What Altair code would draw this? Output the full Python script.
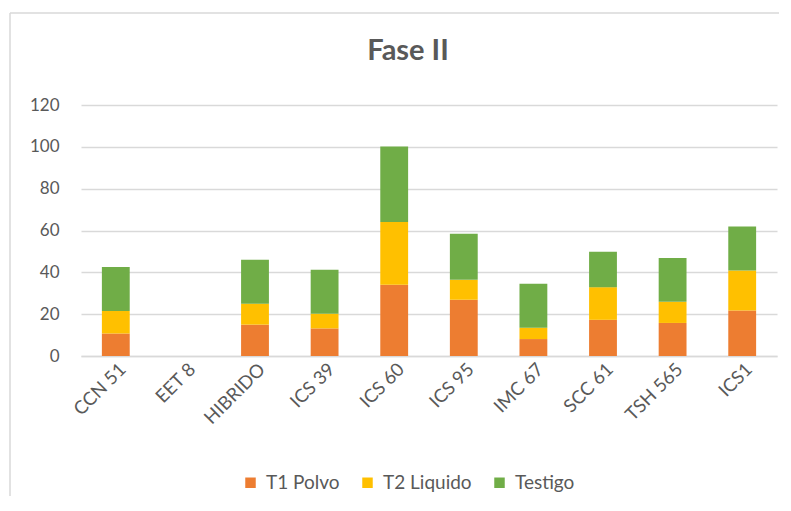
import altair as alt
import pandas as pd

categories = ["CCN 51", "EET 8", "HIBRIDO", "ICS 39", "ICS 60", "ICS 95", "IMC 67", "SCC 61", "TSH 565", "ICS1"]
t1_polvo = [10.7, 0, 15.0, 13.2, 34.1, 26.9, 8.1, 17.3, 15.8, 21.8]
t2_liquido = [10.8, 0, 10.0, 7.0, 30.0, 9.5, 5.4, 15.6, 10.1, 19.1]
testigo = [21.0, 0, 21.0, 21.0, 36.0, 22.0, 21.0, 16.9, 21.0, 21.0]
series = ["T1 Polvo", "T2 Liquido", "Testigo"]
colors = ["#ED7D31", "#FFC000", "#70AD47"]

rows = []
for i, c in enumerate(categories):
    for k, (s, vals) in enumerate(zip(series, [t1_polvo, t2_liquido, testigo])):
        rows.append({"cat": c, "serie": s, "valor": vals[i], "orden": k})
df = pd.DataFrame(rows)

FONT = "Lato"
TXT = "#595959"

bars = alt.Chart(df).mark_bar().encode(
    x=alt.X("cat:N", sort=categories, title=None,
            scale=alt.Scale(paddingInner=0.6, paddingOuter=0.3),
            axis=alt.Axis(labelAngle=-45, labelAlign="right", labelBaseline="middle",
                          labelOffset=7, labelPadding=10, ticks=False, domain=True,
                          domainColor="#d9d9d9", domainWidth=1.5,
                          labelFontSize=18.5, labelColor=TXT, labelFont=FONT)),
    y=alt.Y("valor:Q", stack="zero", title=None,
            scale=alt.Scale(domain=[0, 120]),
            axis=alt.Axis(values=[0, 20, 40, 60, 80, 100, 120], ticks=False, domain=False,
                          gridColor="#d9d9d9", gridWidth=1.5, labelPadding=22,
                          labelFontSize=17, labelColor=TXT, labelFont=FONT)),
    color=alt.Color("serie:N", sort=series,
                    scale=alt.Scale(domain=series, range=colors),
                    legend=alt.Legend(title=None, orient="none", direction="horizontal",
                                      legendX=160, legendY=368, symbolType="square",
                                      symbolSize=110, symbolStrokeWidth=0,
                                      labelFontSize=19, labelColor=TXT, labelFont=FONT,
                                      columnPadding=18, labelOffset=6)),
    order=alt.Order("orden:Q"),
)

border = alt.Chart(alt.Data(values=[{}]))
top_line = border.mark_rule(color="#d9d9d9", strokeWidth=1.5).encode(
    x=alt.value(-71), x2=alt.value(720), y=alt.value(-92))
left_line = border.mark_rule(color="#d9d9d9", strokeWidth=1.5).encode(
    x=alt.value(-71), y=alt.value(-92), y2=alt.value(420))

chart = alt.layer(bars, top_line, left_line).properties(
    width=696, height=251,
    autosize=alt.AutoSizeParams(type="none"),
    padding={"left": 73, "top": 97, "right": 2, "bottom": 140},
    title=alt.Title("Fase II", fontSize=29, font=FONT, fontWeight="bold", color=TXT,
                    anchor="middle", dx=-21, offset=-54),
).configure_view(stroke=None).configure_axis(grid=True).configure_axisX(grid=False)

chart.save("out.html", embed_options={"renderer": "svg", "actions": False})
